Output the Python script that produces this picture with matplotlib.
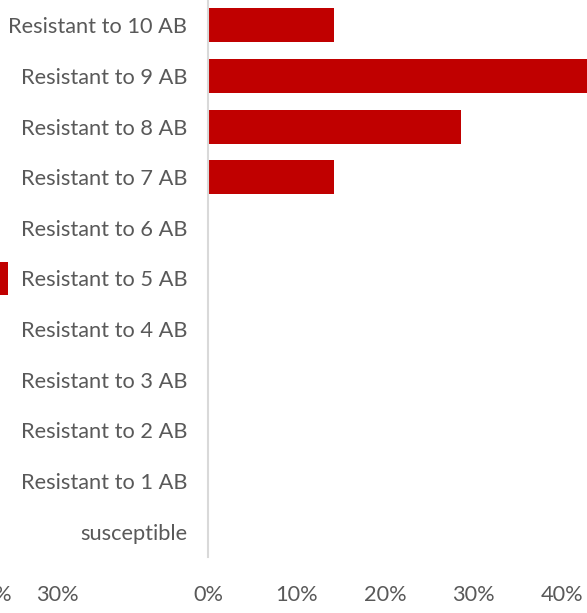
import matplotlib
matplotlib.use("Agg")
import matplotlib.pyplot as plt
from matplotlib.ticker import FuncFormatter

# ---- data ----
categories = ["susceptible", "Resistant to 1 AB", "Resistant to 2 AB", "Resistant to 3 AB",
              "Resistant to 4 AB", "Resistant to 5 AB", "Resistant to 6 AB", "Resistant to 7 AB",
              "Resistant to 8 AB", "Resistant to 9 AB", "Resistant to 10 AB"]
right_values = [0, 0, 0, 0, 0, 0, 0, 0.1429, 0.2857, 0.4286, 0.1429]
left_values = [0, 0, 0, 0, 0, 0.227, 0, 0, 0, 0, 0]
right_ticks = [0.0, 0.1, 0.2, 0.3, 0.4]
left_ticks = [0.2, 0.3]

plt.rcParams["font.family"] = ["Lato", "DejaVu Sans"]

W, H = 587, 613
fig = plt.figure(figsize=(W / 100, H / 100), dpi=100)

bar_color = "#C00000"
txt_color = "#595959"
fs = 15.7
ypos = list(range(len(categories)))

ax_top = 1.0
ax_bot = (H - 557) / H

# left (partially visible) panel
lx0, lx1 = -144, 85
axl = fig.add_axes([lx0 / W, ax_bot, (lx1 - lx0) / W, ax_top - ax_bot])
axl.barh(ypos, left_values, height=0.67, color=bar_color)
axl.set_xlim(0, 0.3418)
axl.set_ylim(-0.5, len(categories) - 0.5)
axl.set_xticks(left_ticks)
axl.xaxis.set_major_formatter(FuncFormatter(lambda v, p: f"{v*100:.0f}%"))
axl.set_yticks([])
for s in axl.spines.values():
    s.set_visible(False)
axl.tick_params(axis="x", length=0, pad=20, labelsize=fs, labelcolor=txt_color)
axl.patch.set_alpha(0)

# right panel
rx0 = 208
axr = fig.add_axes([rx0 / W, ax_bot, (W - rx0) / W, ax_top - ax_bot])
axr.barh(ypos, right_values, height=0.67, color=bar_color)
axr.set_xlim(0, (W - rx0) / 885.0)
axr.set_ylim(-0.5, len(categories) - 0.5)
axr.set_yticks(ypos)
axr.set_yticklabels(categories)
axr.set_xticks(right_ticks)
axr.xaxis.set_major_formatter(FuncFormatter(lambda v, p: f"{v*100:.0f}%"))
for k in ["top", "right", "bottom"]:
    axr.spines[k].set_visible(False)
axr.spines["left"].set_color("#D9D9D9")
axr.spines["left"].set_linewidth(1.5)
axr.tick_params(axis="both", length=0, labelsize=fs, labelcolor=txt_color)
axr.tick_params(axis="y", pad=15)
axr.tick_params(axis="x", pad=20)
axr.patch.set_alpha(0)

fig.savefig("out.png", dpi=100)
